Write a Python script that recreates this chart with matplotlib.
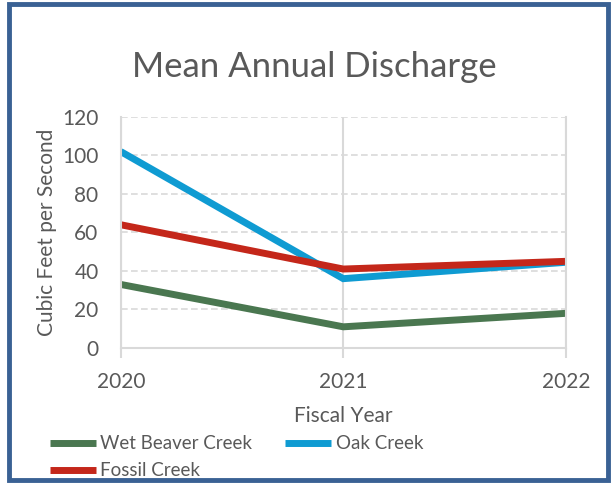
import matplotlib
matplotlib.use("Agg")
import matplotlib.pyplot as plt
from matplotlib.patches import Rectangle

# Mean annual discharge (cfs) per fiscal year
anios = [2020, 2021, 2022]
wet_beaver = [33, 11, 18]
oak = [102, 36, 44.5]
fossil = [64, 41, 45]

series = [
    ("Wet Beaver Creek", wet_beaver, "#4A7750"),
    ("Oak Creek", oak, "#0F9BD2"),
    ("Fossil Creek", fossil, "#C4271A"),
]

plt.rcParams["font.family"] = ["Lato", "DejaVu Sans"]
texto = "#595959"
gris = "#D9D9D9"

fig = plt.figure(figsize=(6.13, 4.83), dpi=100)
ax = fig.add_axes([0.197, 0.2795, 0.726, 0.4785])

lineas = {}
for nombre, valores, color in series:
    lineas[nombre], = ax.plot(anios, valores, color=color, lw=5, label=nombre,
                              solid_capstyle="butt", solid_joinstyle="miter")

ax.set_xlim(2020, 2022)
ax.set_ylim(0, 120)
ax.set_xticks(anios)
ax.set_xticklabels([str(a) for a in anios])
ax.set_yticks(range(0, 121, 20))

ax.yaxis.grid(True, color=gris, ls=(0, (4, 2)), lw=1.2)
ax.xaxis.grid(True, color=gris, ls="-", lw=1.5)
ax.set_axisbelow(True)
for lado in ("left", "right", "bottom"):
    ax.spines[lado].set_color(gris)
    ax.spines[lado].set_linewidth(1.5)
ax.spines["top"].set_visible(False)

ax.tick_params(axis="y", length=0, pad=16, labelsize=15, labelcolor=texto)
ax.tick_params(axis="x", length=7, width=1.5, color=gris, pad=10,
               labelsize=15, labelcolor=texto)

ax.set_ylabel("Cubic Feet per Second", fontsize=15, color=texto)
ax.yaxis.set_label_coords(-0.144, 0.5)
ax.set_xlabel("Fiscal Year", fontsize=15, color=texto, labelpad=10)
fig.suptitle("Mean Annual Discharge", x=0.512, y=0.895, fontsize=25,
             color=texto)

# orden por filas: Wet Beaver, Oak / Fossil
orden = ["Wet Beaver Creek", "Fossil Creek", "Oak Creek"]
fig.legend([lineas[n] for n in orden], orden, loc="upper left",
           bbox_to_anchor=(0.081, 0.099), ncol=2, frameon=False, fontsize=13.5,
           labelcolor=texto, handlelength=2.45, handletextpad=0.25,
           columnspacing=1.75, labelspacing=0.55, borderpad=0, borderaxespad=0)

# marco azul alrededor de toda la figura
fig.patches.append(Rectangle((0.014, 0.006), 0.978, 0.986, transform=fig.transFigure,
                             fill=False, edgecolor="#3A6194", lw=3.5))

fig.savefig("out.png", dpi=100)
